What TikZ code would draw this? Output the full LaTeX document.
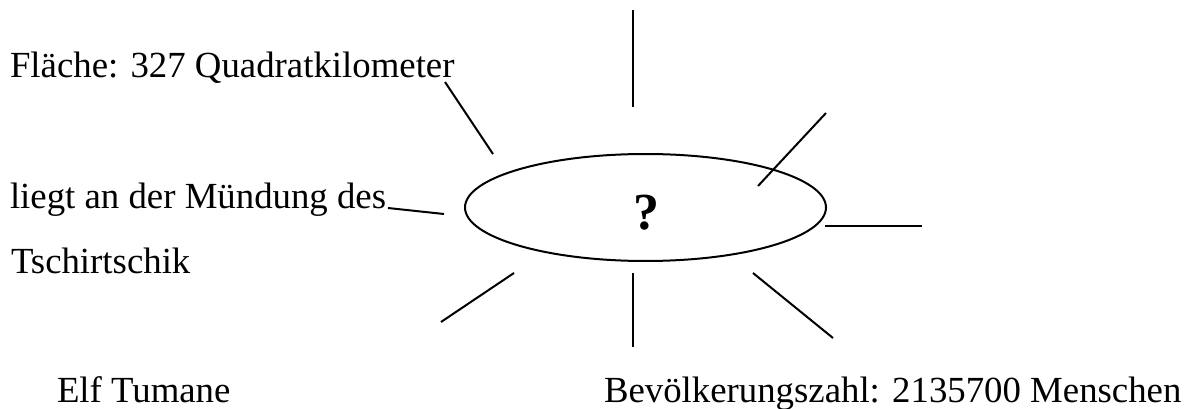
\documentclass[tikz,border=0pt]{standalone}
\usepackage{fontspec}
\setmainfont{Liberation Serif}
\usetikzlibrary{shapes.geometric}
\begin{document}
\begin{tikzpicture}[x=1pt,y=-1pt,line width=2pt,
  every node/.style={inner sep=0pt,font=\fontsize{36.8}{44}\selectfont},
  fact/.style={anchor=base west}]
\useasboundingbox (0,0) rectangle (1187,409);
\node[draw,ellipse,minimum width=361,minimum height=107] (city) at (645.5,207.5) {};
\node[font=\fontsize{52}{60}\selectfont\bfseries] (quest) at (646,213) {?};
\node[fact] (area) at (9,78) {Fläche: 327 Quadratkilometer};
\node[fact] (river) at (9,208) {liegt an der Mündung des};
\node[fact] (rivername) at (10,273) {Tschirtschik};
\node[fact] (district) at (56,402) {Elf Tumane};
\node[fact] (people) at (603,402) {Bevölkerungszahl: 2135700 Menschen};
% rays round the ellipse
\foreach \a/\b in {{633,10}/{633,107},{445,82}/{493,154},{826,113}/{758,186},
  {388,208}/{444,214},{825,226}/{922,226},{514,273}/{441,322},
  {633,273}/{633,347},{753,273}/{833,338}}
  \draw (\a)--(\b);
\end{tikzpicture}
\end{document}
